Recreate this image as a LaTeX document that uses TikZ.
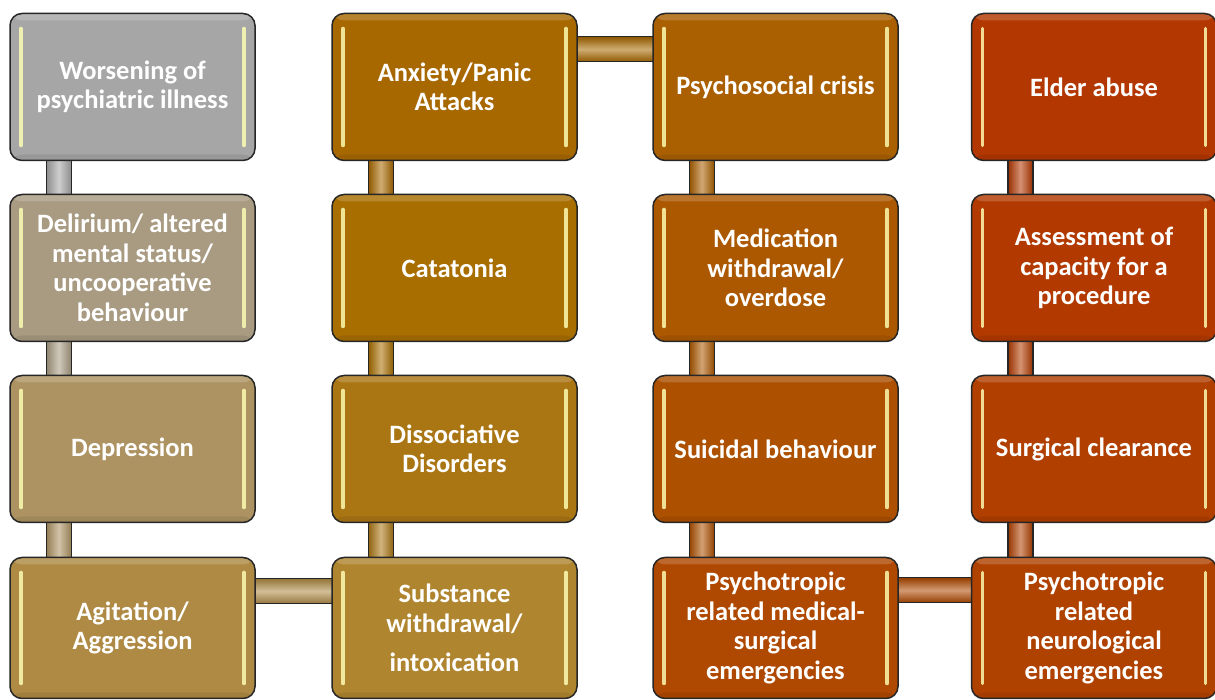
\documentclass[tikz,border=0pt]{standalone}
\usepackage{fontspec}
\setmainfont{Carlito}
\usetikzlibrary{calc}
\pgfdeclarelayer{background}
\pgfsetlayers{background,main}

% fill colours, one per box
\definecolor{cWorse}{HTML}{A6A6A6}
\definecolor{cDelir}{HTML}{A89B82}
\definecolor{cDepr}{HTML}{AD9362}
\definecolor{cAgit}{HTML}{AE8A44}
\definecolor{cAnx}{HTML}{A86800}
\definecolor{cCata}{HTML}{A86E00}
\definecolor{cDiss}{HTML}{AA7614}
\definecolor{cSubst}{HTML}{AF8530}
\definecolor{cCrisis}{HTML}{AA6000}
\definecolor{cMed}{HTML}{AC5800}
\definecolor{cSuic}{HTML}{AD5000}
\definecolor{cPmed}{HTML}{AF4800}
\definecolor{cElder}{HTML}{B33700}
\definecolor{cCap}{HTML}{B23A00}
\definecolor{cSurg}{HTML}{B03F00}
\definecolor{cPneu}{HTML}{B04200}

\tikzset{
  hl/.style={line width=3.5pt, line cap=round, draw=#1, opacity=.9},
  box/.style={rectangle, rounded corners=12pt, draw=black!85, line width=1.5pt,
    fill=#1, minimum width=245pt, minimum height=147pt, inner sep=0pt,
    text=white, align=center, font=\bfseries\fontsize{26.5}{29.5}\selectfont,
    path picture={
      \fill[white,opacity=.18] (path picture bounding box.north west)
        rectangle ([yshift=-7pt]path picture bounding box.north east);
      \fill[black,opacity=.08] (path picture bounding box.south west)
        rectangle ([yshift=6pt]path picture bounding box.south east);
      \draw[hl=#1!25!yellow!35!white]
        ([xshift=11pt,yshift=-15pt]path picture bounding box.north west) --
        ([xshift=11pt,yshift=15pt]path picture bounding box.south west);
      \draw[hl=#1!25!yellow!35!white]
        ([xshift=-11pt,yshift=-15pt]path picture bounding box.north east) --
        ([xshift=-11pt,yshift=15pt]path picture bounding box.south east);
    }},
  vbar/.style={draw=black!85, line width=1.5pt,
    left color=#1!85!black, right color=#1!85!black, middle color=#1!55!white},
  hbar/.style={draw=black!85, line width=1.5pt,
    top color=#1!85!black, bottom color=#1!85!black, middle color=#1!55!white},
}

\begin{document}
\begin{tikzpicture}[x=1pt,y=1pt]
\useasboundingbox (0,0) rectangle (1215,700);

% column 1
\node[box=cWorse] (w1) at (132.5,613) {Worsening of\\psychiatric illness};
\node[box=cDelir] (w2) at (132.5,432) {Delirium/ altered\\mental status/\\uncooperative\\behaviour};
\node[box=cDepr]  (w3) at (132.5,251) {Depression};
\node[box=cAgit, minimum height=141pt] (w4) at (132.5,72) {Agitation/\\Aggression};

% column 2
\node[box=cAnx]   (a1) at (454.5,613) {Anxiety/Panic\\Attacks};
\node[box=cCata]  (a2) at (454.5,432) {Catatonia};
\node[box=cDiss]  (a3) at (454.5,251) {Dissociative\\Disorders};
\node[box=cSubst, minimum height=141pt] (a4) at (454.5,72) {Substance\\withdrawal/\\[10pt]intoxication};

% column 3
\node[box=cCrisis] (p1) at (775.5,613) {Psychosocial crisis};
\node[box=cMed]    (p2) at (775.5,432) {Medication\\withdrawal/\\overdose};
\node[box=cSuic]   (p3) at (775.5,251) {Suicidal behaviour};
\node[box=cPmed, minimum height=141pt] (p4) at (775.5,72) {Psychotropic\\related medical-\\surgical\\emergencies};

% column 4
\node[box=cElder] (e1) at (1094,613) {Elder abuse};
\node[box=cCap]   (e2) at (1094,432) {Assessment of\\capacity for a\\procedure};
\node[box=cSurg]  (e3) at (1094,251) {Surgical clearance};
\node[box=cPneu, minimum height=141pt] (e4) at (1094,72) {Psychotropic\\related\\neurological\\emergencies};

% connecting bars behind the boxes
\begin{pgfonlayer}{background}
  \foreach \u/\v/\c in {w1/w2/cWorse, w2/w3/cDelir, w3/w4/cDepr,
                        a1/a2/cAnx, a2/a3/cCata, a3/a4/cDiss,
                        p1/p2/cCrisis, p2/p3/cMed, p3/p4/cSuic,
                        e1/e2/cElder, e2/e3/cCap, e3/e4/cSurg}
    \draw[vbar=\c] ($(\u.south west)+(37,2)$) rectangle ($(\v.north west)+(62,-2)$);
  \draw[hbar=cAgit]   ($(w4.north east)+(-2,-22)$) rectangle ($(a4.north west)+(2,-47)$);
  \draw[hbar=cAnx]    ($(a1.north east)+(-2,-24)$) rectangle ($(p1.north west)+(2,-49)$);
  \draw[hbar=cPmed]   ($(p4.north east)+(-2,-21)$) rectangle ($(e4.north west)+(2,-46)$);
\end{pgfonlayer}
\end{tikzpicture}
\end{document}
